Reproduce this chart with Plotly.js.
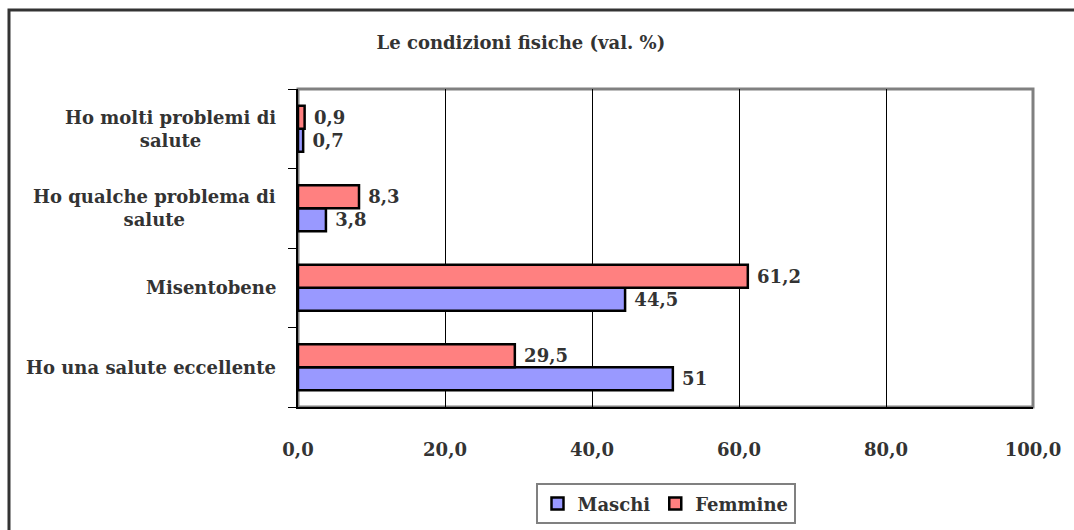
<!DOCTYPE html>
<html>
<head>
<meta charset="utf-8">
<script src="https://cdn.plot.ly/plotly-3.0.1.min.js"></script>
<style>
html,body{margin:0;padding:0;background:#fff;}
#chart{width:1074px;height:530px;}
</style>
</head>
<body>
<div id="chart"></div>
<script>
// Data (bottom to top on chart)
var categories = [
  "Ho una salute eccellente",
  "Misentobene",
  "Ho qualche problema di<br>salute",
  "Ho molti problemi di<br>salute"
];
var maschi = [51, 44.5, 3.8, 0.7];
var femmine = [29.5, 61.2, 8.3, 0.9];
var xTicks = [0, 20, 40, 60, 80, 100];

var FONT = "DejaVu Serif";
var TXT = "#333333";
var FS = 18;

var traces = [
  {
    type: "bar", orientation: "h", name: "Maschi",
    x: maschi, y: categories,
    marker: {color: "#9999FF", line: {color: "#000000", width: 2.5}},
    texttemplate: " %{x:.1~f}", textposition: "outside", cliponaxis: false,
    textfont: {family: FONT, size: FS, color: TXT, weight: "bold"},
    hoverinfo: "skip"
  },
  {
    type: "bar", orientation: "h", name: "Femmine",
    x: femmine, y: categories,
    marker: {color: "#FF8080", line: {color: "#000000", width: 2.5}},
    texttemplate: " %{x:.1~f}", textposition: "outside", cliponaxis: false,
    textfont: {family: FONT, size: FS, color: TXT, weight: "bold"},
    hoverinfo: "skip"
  }
];

var annotations = categories.map(function (c) {
  return {
    text: c, xref: "paper", yref: "y", x: -0.027, y: c,
    xanchor: "right", yanchor: "middle", align: "center", showarrow: false,
    font: {family: FONT, size: FS, color: TXT, weight: "bold"}
  };
});

var layout = {
  width: 1074, height: 530,
  margin: {l: 298, r: 41, t: 89, b: 123, autoexpand: false},
  paper_bgcolor: "#ffffff", plot_bgcolor: "#ffffff",
  separators: ",.",
  font: {family: FONT, color: TXT, size: FS, weight: "bold"},
  title: {
    text: "Le condizioni fisiche (val. %)",
    x: 0.485, xanchor: "center", xref: "container",
    y: 0.919, yanchor: "middle", yref: "container",
    font: {family: FONT, size: FS, color: TXT, weight: "bold"}
  },
  barmode: "group", bargap: 0.42, bargroupgap: 0,
  xaxis: {
    range: [0, 100], tickvals: xTicks, tickformat: ".1f",
    showgrid: true, gridcolor: "#000000", gridwidth: 1,
    showline: true, linecolor: "#000000", linewidth: 2,
    zeroline: false, ticks: "", ticklabelstandoff: 25,
    tickfont: {family: FONT, size: FS, color: TXT, weight: "bold"},
    fixedrange: true
  },
  yaxis: {
    type: "category", categoryorder: "array", categoryarray: categories,
    showticklabels: false, showgrid: false,
    showline: true, linecolor: "#000000", linewidth: 2,
    ticks: "outside", tickson: "boundaries", ticklen: 8, tickcolor: "#000000", tickwidth: 1,
    zeroline: false, fixedrange: true
  },
  showlegend: true,
  legend: {
    orientation: "h", x: 0.5, xanchor: "center", y: -0.24, yanchor: "top",
    bgcolor: "#ffffff", bordercolor: "#808080", borderwidth: 2,
    font: {family: FONT, size: FS, color: TXT, weight: "bold"},
    traceorder: "normal", itemwidth: 30
  },
  annotations: annotations,
  shapes: [
    {type: "rect", xref: "paper", yref: "paper", x0: 0, x1: 1, y0: 0, y1: 1,
     line: {color: "#808080", width: 3}, layer: "below"},
    {type: "rect", xref: "paper", yref: "paper", x0: -0.3932, x1: 1.2, y0: -0.6, y1: 1.2484,
     line: {color: "#333333", width: 3}, layer: "below"}
  ]
};

Plotly.newPlot("chart", traces, layout, {displayModeBar: false, staticPlot: true});
</script>
</body>
</html>
